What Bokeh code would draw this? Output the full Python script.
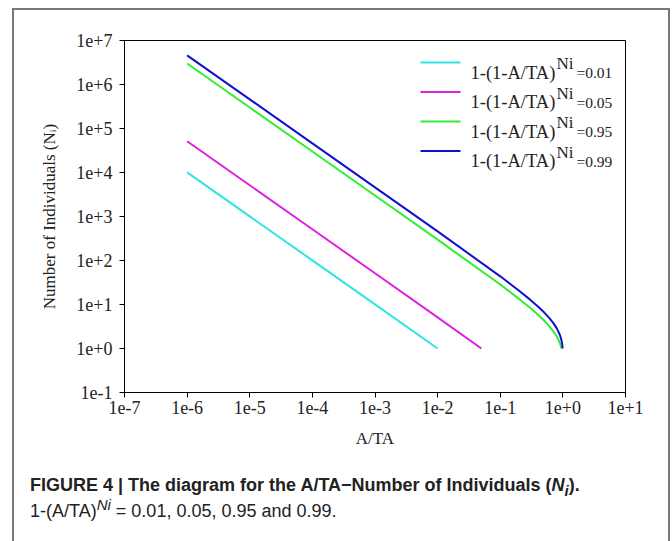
from bokeh.plotting import figure
from bokeh.models import FixedTicker, CustomJSTickFormatter, Label, BoxAnnotation, Div
from bokeh.layouts import column
from bokeh.embed import file_html
from bokeh.resources import INLINE

# A/TA values and number of individuals
a_001 = [1e-6, 1e-5, 1e-4, 1e-3, 1e-2]
n_001 = [10050, 1005, 100.5, 10.04, 1.0]

a_005 = [1e-6, 1e-5, 1e-4, 1e-3, 1e-2, 0.05]
n_005 = [51290, 5129, 512.9, 51.27, 5.10, 1.0]

a_095 = [1e-6, 1e-5, 1e-4, 1e-3, 1e-2, 0.1, 0.2, 0.3, 0.4, 0.5, 0.6, 0.7, 0.8, 0.85, 0.9, 0.93, 0.95]
n_095 = [2996000, 299600, 29960, 2994, 298.1, 28.4, 13.4, 8.40, 5.86, 4.32, 3.27, 2.49, 1.86, 1.58, 1.30, 1.13, 1.0]

a_099 = [1e-6, 1e-5, 1e-4, 1e-3, 1e-2, 0.1, 0.2, 0.3, 0.4, 0.5, 0.6, 0.7, 0.8, 0.9, 0.95, 0.97, 0.98, 0.99]
n_099 = [4605000, 460500, 46050, 4603, 458.2, 43.7, 20.6, 12.9, 9.01, 6.64, 5.03, 3.82, 2.86, 2.00, 1.54, 1.31, 1.18, 1.0]

legend_values = ["0.01", "0.05", "0.95", "0.99"]
colors = ["#30e3e6", "#e020e0", "#30ee30", "#1010d0"]
x_ticks = [1e-7, 1e-6, 1e-5, 1e-4, 1e-3, 1e-2, 1e-1, 1e0, 1e1]
y_ticks = [1e-1, 1e0, 1e1, 1e2, 1e3, 1e4, 1e5, 1e6, 1e7]

SERIF = "Liberation Serif"
TXT = "#222222"

p = figure(width=650, height=450, x_axis_type="log", y_axis_type="log",
           x_range=(1e-7, 1e1), y_range=(1e-1, 1e7),
           output_backend="svg", toolbar_location=None,
           min_border_left=110, min_border_right=39,
           min_border_top=30, min_border_bottom=68)

series = [(a_001, n_001), (a_005, n_005), (a_095, n_095), (a_099, n_099)]
for (xs, ys), c in zip(series, colors):
    p.line(xs, ys, line_color=c, line_width=2)

p.grid.visible = False
p.outline_line_color = "black"
p.outline_line_width = 1
p.outline_line_alpha = 1.0

fmt = CustomJSTickFormatter(code="""
const e = Math.round(Math.log10(tick));
return "1e" + (e >= 0 ? "+" + e : String(e));
""")
p.xaxis.ticker = FixedTicker(ticks=x_ticks, minor_ticks=[])
p.yaxis.ticker = FixedTicker(ticks=y_ticks, minor_ticks=[])
for ax in (p.xaxis[0], p.yaxis[0]):
    ax.formatter = fmt
    ax.axis_line_color = "black"
    ax.major_tick_line_color = "black"
    ax.major_tick_out = 5
    ax.major_tick_in = 0
    ax.minor_tick_out = 0
    ax.minor_tick_in = 0
    ax.major_label_text_font = SERIF
    ax.major_label_text_font_size = "18px"
    ax.major_label_text_color = TXT
    ax.axis_label_text_font = SERIF
    ax.axis_label_text_font_size = "17px"
    ax.axis_label_text_font_style = "normal"
    ax.axis_label_text_color = TXT

p.xaxis.major_label_standoff = 3
p.yaxis.major_label_standoff = 7
p.xaxis.axis_label = "A/TA"
p.xaxis.axis_label_standoff = 12
p.yaxis.axis_label = "Number of Individuals (N\u1d62)"
p.yaxis.axis_label_standoff = 14

# manual legend (screen units relative to the plot frame)
for i, (val, c) in enumerate(zip(legend_values, colors)):
    ly = 330 - 29.5 * i
    p.add_layout(BoxAnnotation(left=296, right=336, bottom=ly - 1, top=ly + 1,
                               left_units="screen", right_units="screen",
                               bottom_units="screen", top_units="screen",
                               fill_color=c, fill_alpha=1.0, line_alpha=0))
    base = ly - 10
    p.add_layout(Label(x=346, y=base, x_units="screen", y_units="screen",
                       text="1-(1-A/TA)", text_font=SERIF, text_font_size="18.5px",
                       text_color=TXT, text_baseline="alphabetic"))
    p.add_layout(Label(x=432, y=base + 9, x_units="screen", y_units="screen",
                       text="Ni", text_font=SERIF, text_font_size="17px",
                       text_color=TXT, text_baseline="alphabetic"))
    p.add_layout(Label(x=452, y=base, x_units="screen", y_units="screen",
                       text="=" + val, text_font=SERIF, text_font_size="15.5px",
                       text_color=TXT, text_baseline="alphabetic"))

caption = Div(width=644, height=80, text=(
    "<div style=\"font-family:'Liberation Sans',Arial,sans-serif;font-size:18px;"
    "line-height:26px;color:#222;padding:7px 0 0 11px;white-space:nowrap\">"
    "<b>FIGURE 4 | The diagram for the A/TA\u2212Number of Individuals "
    "(<i>N<sub style=\"line-height:0\">i</sub></i>).</b><br>"
    "1-(A/TA)<sup style=\"line-height:0\"><i>Ni</i></sup> = 0.01, 0.05, 0.95 and 0.99.</div>"))

layout = column(p, caption, styles={"border-top": "2px solid #777",
                                    "border-left": "2px solid #777",
                                    "border-right": "2px solid #777",
                                    "margin-left": "12px",
                                    "margin-top": "8px"})

open("out.html", "w").write(file_html(layout, INLINE))
